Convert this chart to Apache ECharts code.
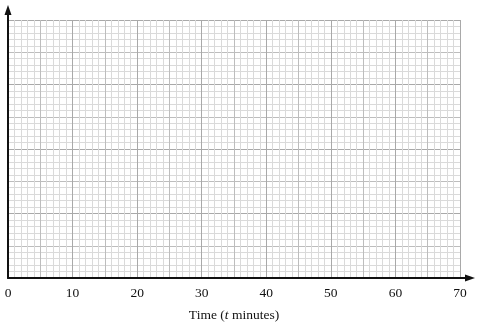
<!DOCTYPE html>
<html>
<head>
<meta charset="utf-8">
<script src="https://cdn.jsdelivr.net/npm/echarts@6/dist/echarts.min.js"></script>
<style>html,body{margin:0;padding:0;background:#fff}#c{width:480px;height:326px}</style>
</head>
<body>
<div id="c"></div>
<script>
// Blank graph paper: axis ranges and labelled ticks
var xRange = [0, 70];
var yRange = [0, 40];
var xTickLabels = [0, 10, 20, 30, 40, 50, 60, 70];
var xAxisTitle = ['Time (', 't', ' minutes)'];
var seriesData = [];

var chart = echarts.init(document.getElementById('c'), null, {renderer: 'canvas'});
var paperColors = ['#a9a9a9', '#bdbdbd'];
var minorColor = '#dadada';
chart.setOption({
  animation: false,
  grid: [
    {left: 8, right: 20, top: 20, bottom: 48, containLabel: false, outerBoundsMode: 'none'},
    {left: 8, right: 10, top: 10, bottom: 48, containLabel: false, outerBoundsMode: 'none'}
  ],
  xAxis: [
    {
      gridIndex: 0, type: 'value', min: xRange[0], max: xRange[1], interval: 5,
      axisLine: {show: false}, axisTick: {show: false},
      axisLabel: {
        show: true, margin: 8, color: '#111', fontFamily: 'Liberation Serif', fontSize: 13.5,
        formatter: function (v) { return xTickLabels.indexOf(v) >= 0 ? String(v) : ''; }
      },
      splitLine: {show: true, lineStyle: {color: paperColors, width: 1}},
      minorTick: {show: false, splitNumber: 5},
      minorSplitLine: {show: true, lineStyle: {color: minorColor, width: 1}},
      name: '{n|' + xAxisTitle[0] + '}{i|' + xAxisTitle[1] + '}{n|' + xAxisTitle[2] + '}',
      nameLocation: 'middle', nameGap: 30,
      nameTextStyle: {
        rich: {
          n: {fontFamily: 'Liberation Serif', fontSize: 13.5, color: '#111'},
          i: {fontFamily: 'Liberation Serif', fontSize: 13.5, color: '#111', fontStyle: 'italic'}
        }
      }
    },
    {
      gridIndex: 1, type: 'value', min: 0, max: 1, show: true,
      axisLine: {show: true, symbol: ['none', 'triangle'], symbolSize: [7, 10], lineStyle: {color: '#111', width: 2}},
      axisTick: {show: false}, axisLabel: {show: false}, splitLine: {show: false}
    }
  ],
  yAxis: [
    {
      gridIndex: 0, type: 'value', min: yRange[0], max: yRange[1], interval: 5,
      axisLine: {show: false}, axisTick: {show: false}, axisLabel: {show: false},
      splitLine: {show: true, lineStyle: {color: paperColors, width: 1}},
      minorTick: {show: false, splitNumber: 5},
      minorSplitLine: {show: true, lineStyle: {color: minorColor, width: 1}}
    },
    {
      gridIndex: 1, type: 'value', min: 0, max: 1, show: true,
      axisLine: {show: true, symbol: ['none', 'triangle'], symbolSize: [7, 10], lineStyle: {color: '#111', width: 2}},
      axisTick: {show: false}, axisLabel: {show: false}, splitLine: {show: false}
    }
  ],
  series: [
    {type: 'line', xAxisIndex: 0, yAxisIndex: 0, data: seriesData},
    {type: 'line', xAxisIndex: 1, yAxisIndex: 1, data: []}
  ]
});
</script>
</body>
</html>
